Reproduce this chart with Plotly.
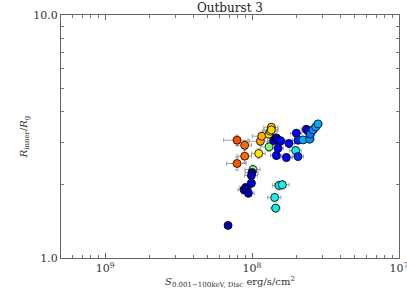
import plotly.graph_objects as go

# Disc flux (erg/s/cm^2) and inner radius (R_g)
flux = [6.87e-9, 7.91e-9, 8.92e-9, 8.92e-9, 7.91e-9, 1.016e-8, 1.00e-8, 0.99e-8, 0.99e-8,
        0.906e-8, 0.883e-8, 0.916e-8, 0.945e-8, 1.111e-8, 1.140e-8, 1.164e-8, 1.306e-8,
        1.306e-8, 1.333e-8, 1.354e-8, 1.354e-8, 1.405e-8, 1.465e-8, 1.504e-8, 1.567e-8,
        1.504e-8, 1.465e-8, 1.713e-8, 1.786e-8, 1.983e-8, 2.056e-8, 2.004e-8, 2.056e-8,
        2.224e-8, 2.343e-8, 2.405e-8, 2.469e-8, 2.495e-8, 2.602e-8, 2.713e-8, 2.813e-8,
        1.527e-8, 1.609e-8, 1.427e-8, 1.449e-8]
rin = [1.362, 3.053, 2.912, 2.625, 2.449, 2.313, 2.249, 2.186, 2.033,
       1.951, 1.909, 1.927, 1.849, 2.692, 3.025, 3.172, 2.868,
       3.233, 3.325, 3.453, 3.367, 3.043, 3.121, 3.063, 3.034,
       2.831, 2.642, 2.592, 2.959, 2.769, 2.617, 3.264, 3.053,
       3.063, 3.389, 3.336, 3.083, 3.233, 3.367, 3.464, 3.565,
       1.988, 2.001, 1.775, 1.605]
flux_err = [0.2e-9, 1.5e-9, 1.0e-9, 1.0e-9, 1.2e-9, 1.2e-9, 1.0e-9, 1.0e-9, 0.6e-9,
            0.8e-9, 0.8e-9, 0.8e-9, 0.9e-9, 1.2e-9, 1.8e-9, 1.6e-9, 1.6e-9,
            1.5e-9, 1.5e-9, 1.5e-9, 1.5e-9, 1.3e-9, 1.3e-9, 1.3e-9, 1.3e-9,
            1.3e-9, 1.3e-9, 1.6e-9, 1.6e-9, 1.8e-9, 1.8e-9, 1.8e-9, 1.8e-9,
            1.8e-9, 1.8e-9, 1.8e-9, 1.8e-9, 1.8e-9, 1.8e-9, 1.8e-9, 1.8e-9,
            1.5e-9, 1.8e-9, 1.5e-9, 1.0e-9]
rin_err = [0.02, 0.15, 0.12, 0.15, 0.15, 0.10, 0.10, 0.10, 0.08,
           0.07, 0.07, 0.07, 0.07, 0.12, 0.12, 0.12, 0.12,
           0.12, 0.12, 0.12, 0.12, 0.10, 0.10, 0.10, 0.10,
           0.10, 0.10, 0.10, 0.10, 0.10, 0.10, 0.10, 0.10,
           0.10, 0.10, 0.10, 0.10, 0.10, 0.10, 0.10, 0.10,
           0.08, 0.08, 0.07, 0.06]
cval = [0.03, 0.82, 0.79, 0.79, 0.81, 0.50, 0.05, 0.05, 0.08,
        0.04, 0.04, 0.04, 0.05, 0.64, 0.73, 0.72, 0.50,
        0.65, 0.63, 0.68, 0.66, 0.07, 0.06, 0.08, 0.10,
        0.11, 0.12, 0.12, 0.12, 0.355, 0.17, 0.13, 0.16,
        0.30, 0.09, 0.12, 0.27, 0.25, 0.27, 0.29, 0.30,
        0.355, 0.36, 0.36, 0.355]

xticks = [1e-9, 1e-8, 1e-7]
xticktext = ["10<sup>9</sup>", "10<sup>8</sup>", "10<sup>7</sup>"]
yticks = [1.0, 10.0]
yticktext = ["1.0", "10.0"]

jet = [[0.0, "rgb(0,0,128)"], [0.11, "rgb(0,0,255)"], [0.125, "rgb(0,0,255)"],
       [0.34, "rgb(0,212,255)"], [0.355, "rgb(20,235,230)"], [0.375, "rgb(41,255,206)"],
       [0.5, "rgb(125,255,122)"], [0.64, "rgb(255,230,0)"], [0.75, "rgb(255,148,0)"],
       [0.89, "rgb(255,0,0)"], [1.0, "rgb(128,0,0)"]]

font_family = "DejaVu Serif"

fig = go.Figure()
fig.add_trace(go.Scatter(
    x=flux, y=rin, mode="markers",
    error_x=dict(type="data", array=flux_err, color="rgba(140,140,140,0.8)", thickness=1, width=2),
    error_y=dict(type="data", array=rin_err, color="rgba(140,140,140,0.8)", thickness=1, width=2),
    marker=dict(size=8, color=cval, colorscale=jet, cmin=0, cmax=1,
                line=dict(color="black", width=0.8)),
    showlegend=False,
))

minor_x = [m * 10 ** e for e in (-10, -9, -8) for m in range(2, 10)]
minor_y = [float(m) for m in range(2, 10)]

axis_common = dict(showgrid=False, zeroline=False, showline=True, linecolor="#666",
                   linewidth=1, mirror="allticks", ticks="inside", ticklen=5,
                   tickcolor="#666", automargin=False, ticklabeloverflow="allow",
                   tickfont=dict(family=font_family, size=11, color="#333"))

fig.update_layout(
    width=407, height=305,
    margin=dict(l=61, r=8, t=15, b=47),
    paper_bgcolor="white", plot_bgcolor="white",
    title=dict(text="Outburst 3", x=0.565, xanchor="center", y=0.975, yanchor="middle",
               font=dict(family=font_family, size=12, color="#222")),
    xaxis=dict(type="log", range=[-9.3, -6.9995], tickvals=xticks, ticktext=xticktext,
               minor=dict(tickvals=minor_x, ticks="inside", ticklen=3, tickcolor="#777"),
               title=dict(text="<i>S</i><sub>0.001−100keV, Disc</sub> erg/s/cm<sup>2</sup>",
                          font=dict(family=font_family, size=10, color="#333"), standoff=2),
               **axis_common),
    yaxis=dict(type="log", range=[0, 1.0002], tickvals=yticks, ticktext=yticktext,
               minor=dict(tickvals=minor_y, ticks="inside", ticklen=3, tickcolor="#777"),
               **axis_common),
    annotations=[dict(text="<i>R</i><sub>inner</sub>/<i>R</i><sub>g</sub>",
                      xref="paper", yref="paper", x=-0.107, y=0.5,
                      xanchor="center", yanchor="middle", textangle=-90, showarrow=False,
                      font=dict(family=font_family, size=10, color="#333"))],
)

fig.write_html("out.html", config={"displayModeBar": False},
               post_script="document.body.style.margin='0';document.body.style.overflow='hidden';")
